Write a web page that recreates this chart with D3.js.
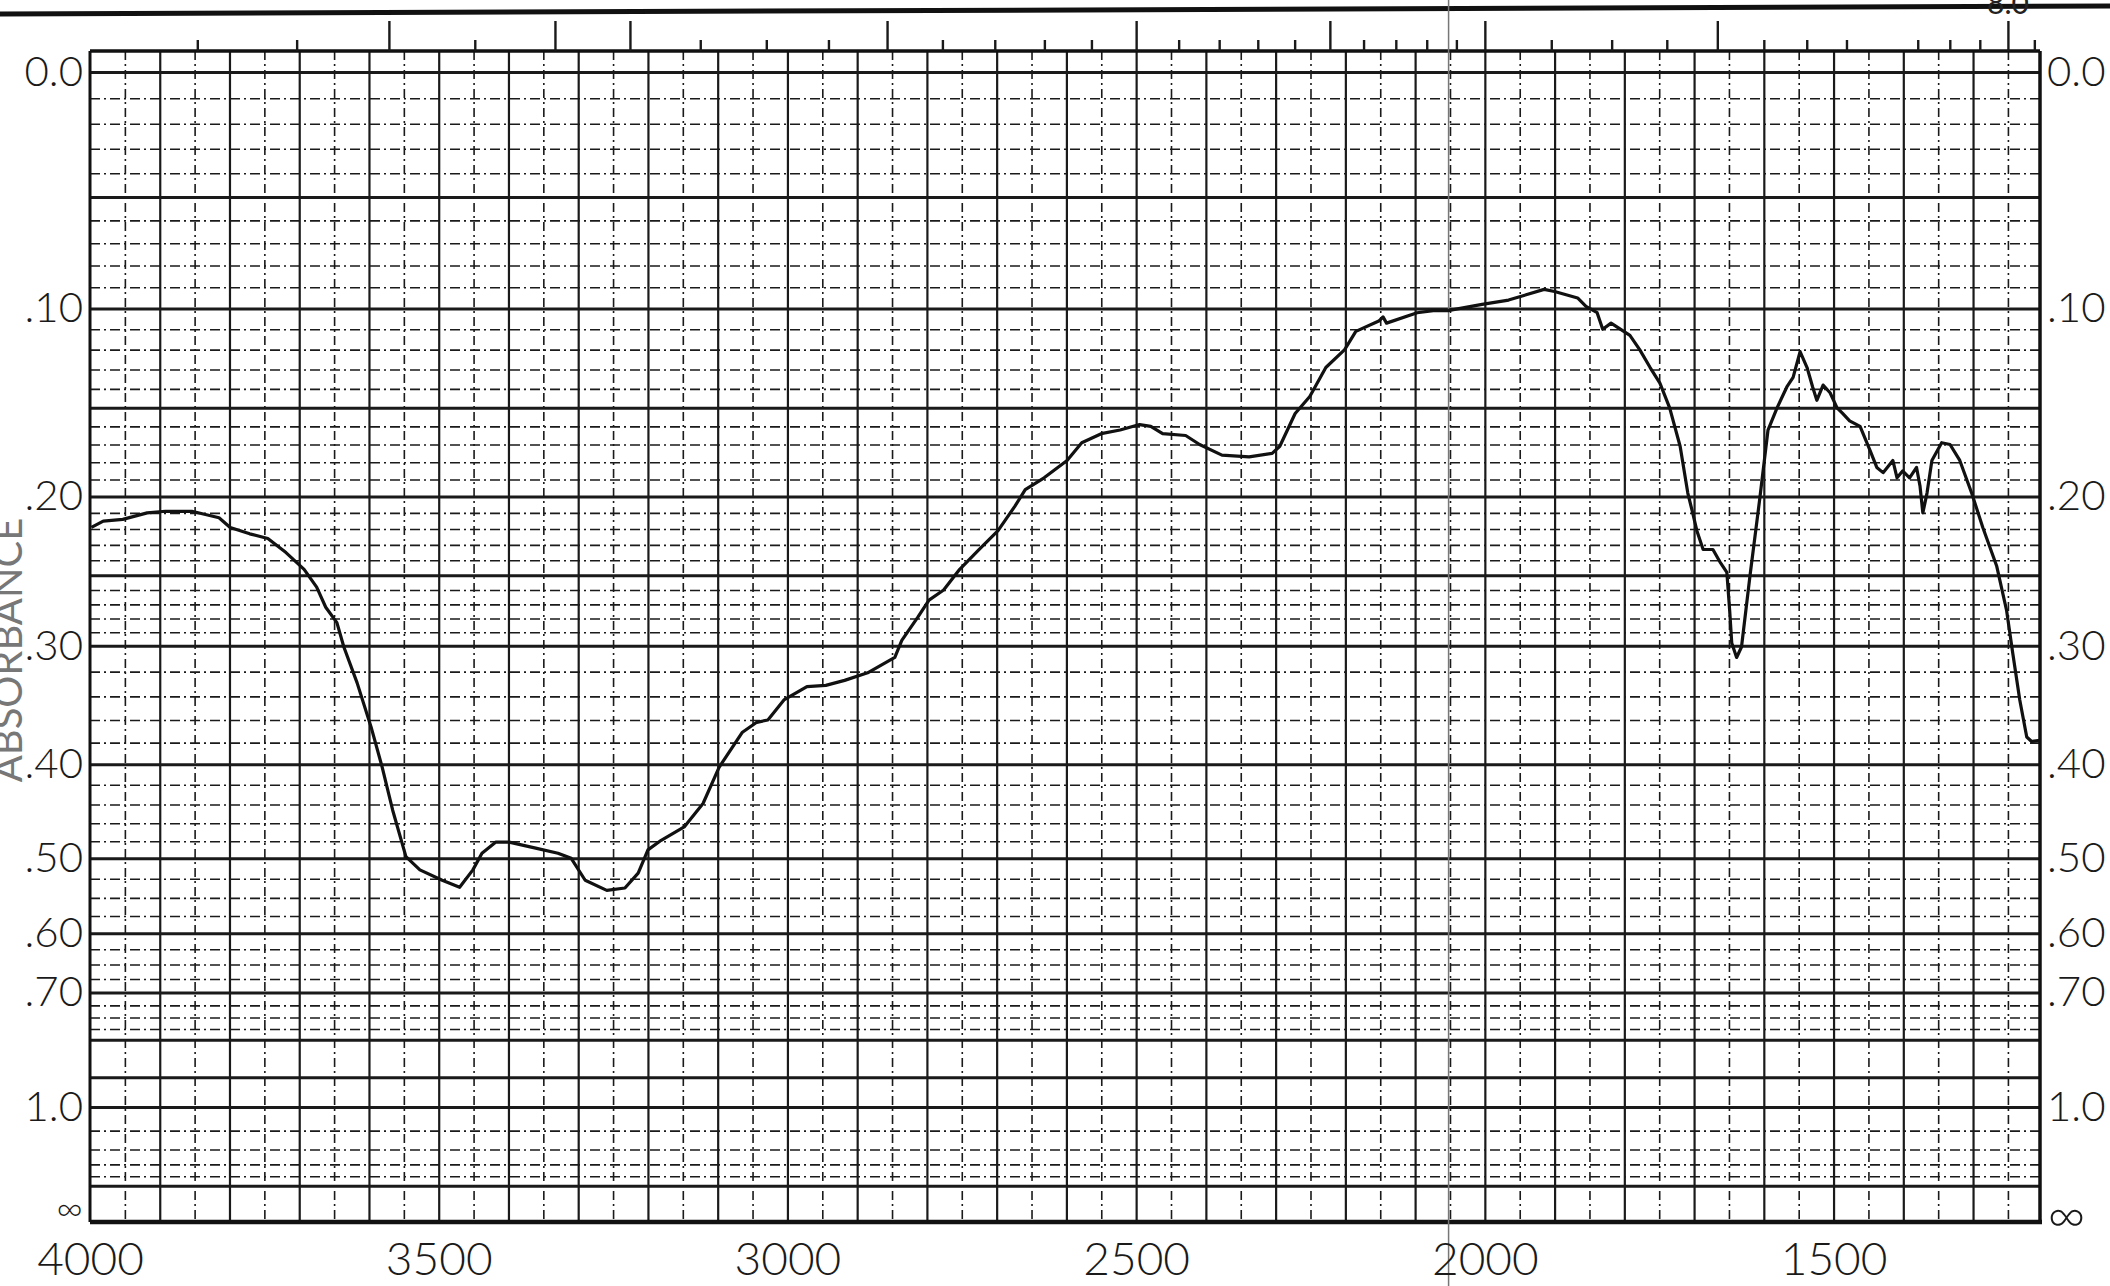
<!DOCTYPE html>
<html>
<head>
<meta charset="utf-8">
<script src="https://cdn.jsdelivr.net/npm/d3@7"></script>
<style>
  html, body { margin: 0; padding: 0; background: #fff; }
  svg { display: block; }
  .lbl text { font-family: "Lato", "DejaVu Sans", sans-serif; font-weight: 300; fill: #1a1a1a; }
</style>
</head>
<body>
<svg id="chart" width="2110" height="1286"></svg>
<script>
// ---- data ----
const wavenumber = [
  3998,3981,3953,3918,3892,3854,3815,3799,3771,3745,
  3719,3693,3675,3662,3646,3636,3617,3597,3581,3566,
  3547,3527,3495,3470,3451,3438,3418,3399,3361,3329,
  3310,3290,3259,3233,3214,3200,3181,3148,3121,3098,
  3065,3044,3028,3005,2972,2945,2918,2885,2846,2836,
  2813,2797,2776,2753,2725,2698,2674,2659,2632,2599,
  2578,2550,2523,2495,2479,2462,2429,2409,2377,2338,
  2305,2294,2272,2251,2228,2201,2185,2152,2146,2141,
  2097,2074,2053,2004,1966,1915,1900,1867,1855,1839,
  1831,1819,1792,1778,1763,1749,1735,1720,1709,1702,
  1696,1687,1673,1663,1653,1649,1646,1639,1632,1620,
  1606,1594,1581,1567,1558,1548,1538,1530,1524,1515,
  1505,1495,1487,1477,1462,1448,1438,1429,1415,1409,
  1401,1391,1381,1376,1372,1366,1359,1345,1333,1319,
  1302,1286,1266,1252,1243,1233,1223,1216,1204
];
const absorbance = [
  0.219,0.215,0.214,0.210,0.209,0.209,0.213,0.219,0.223,0.226,
  0.235,0.246,0.258,0.272,0.283,0.301,0.329,0.366,0.403,0.446,
  0.498,0.514,0.527,0.536,0.514,0.494,0.481,0.481,0.488,0.494,
  0.500,0.527,0.540,0.537,0.518,0.490,0.479,0.464,0.439,0.403,
  0.371,0.362,0.360,0.343,0.332,0.331,0.327,0.321,0.309,0.296,
  0.279,0.267,0.260,0.246,0.233,0.221,0.206,0.196,0.189,0.179,
  0.169,0.164,0.162,0.159,0.160,0.164,0.165,0.170,0.176,0.177,
  0.175,0.171,0.153,0.144,0.129,0.120,0.111,0.106,0.104,0.107,
  0.102,0.101,0.101,0.098,0.096,0.091,0.092,0.095,0.099,0.102,
  0.110,0.107,0.113,0.120,0.129,0.137,0.150,0.171,0.198,0.210,
  0.221,0.233,0.233,0.241,0.248,0.274,0.298,0.309,0.301,0.251,
  0.202,0.162,0.150,0.139,0.134,0.121,0.129,0.139,0.146,0.138,
  0.142,0.150,0.153,0.157,0.160,0.173,0.183,0.186,0.179,0.189,
  0.185,0.189,0.183,0.194,0.210,0.198,0.179,0.169,0.170,0.179,
  0.198,0.219,0.244,0.274,0.306,0.343,0.375,0.379,0.378
];

// tick labels
const xTickValues = [4000, 3500, 3000, 2500, 2000, 1500];
const xTickLabels = ["4000", "3500", "3000", "2500", "2000", "1500"];
const yTickValues = [0, 0.1, 0.2, 0.3, 0.4, 0.5, 0.6, 0.7, 1.0, Infinity];
const yTickLabels = ["0.0", ".10", ".20", ".30", ".40", ".50", ".60", ".70", "1.0", "\u221E"];

// chart-paper grid
const gridMajorWn = [3900,3800,3700,3600,3500,3400,3300,3200,3100,3000,2900,2800,2700,2600,2500,
                     2400,2300,2200,2100,2000,1900,1800,1700,1600,1500,1400,1300];
const gridMinorWn = [3950,3850,3750,3650,3550,3450,3350,3250,3150,3050,2950,2850,2750,2650,2550,
                     2450,2350,2250,2150,2050,1950,1850,1750,1650,1550,1450,1350,1250];
const gridMajorA = [0, 0.05, 0.10, 0.15, 0.20, 0.25, 0.30, 0.40, 0.50, 0.60, 0.70, 0.80, 0.90, 1.0, 1.5];
const gridMinorA = [0.01,0.02,0.03,0.04, 0.06,0.07,0.08,0.09, 0.11,0.12,0.13,0.14, 0.16,0.17,0.18,0.19,
                    0.21,0.22,0.23,0.24, 0.26,0.27,0.28,0.29, 0.32,0.34,0.36,0.38, 0.42,0.44,0.46,0.48,
                    0.525,0.55,0.575, 0.625,0.65,0.675, 0.725,0.75,0.775, 1.1,1.2,1.3,1.4];
// wavelength scale on the top edge (micrometres)
const micronShort = [2.6,2.7,2.9,3.2,3.3,3.4,3.6,3.7,3.8,3.9,4.1,4.2,4.3,4.4,4.6,4.7,4.8,4.9,
                     5.25,5.5,5.75,6.25,6.5,6.75,7.25,7.5,7.75,8.25];
const micronLong = [2.8, 3.0, 3.1, 3.5, 4.0, 4.5, 5.0, 6.0, 8.0];

// ---- layout ----
const W = 2110, H = 1286;
const left = 90, right = 2040, frameTop = 51, bottom = 1222, zeroLine = 72;

const svg = d3.select("#chart");
svg.append("rect").attr("width", W).attr("height", H).attr("fill", "#fff");

const x = d3.scaleLinear().domain([4000, 1204]).range([left, right]);
// paper is linear in transmittance: T = 10^-A
const yT = d3.scaleLinear().domain([1, 0]).range([zeroLine, bottom]);
const tOf = a => Math.pow(10, -a);

// vertical grid
function vgrid(values, width, dash) {
  const g = svg.append("g").attr("transform", `translate(0,${frameTop})`)
    .call(d3.axisBottom(x).tickValues(values).tickSize(bottom - frameTop).tickFormat(""));
  g.select(".domain").remove();
  g.selectAll("line").attr("stroke", "#1a1a1a").attr("stroke-width", width)
    .attr("stroke-dasharray", dash);
}
vgrid(gridMinorWn, 1.6, "9,4,2,4");
vgrid(gridMajorWn, 2.2, null);

// horizontal grid
function hgrid(values, width, dash) {
  const g = svg.append("g").attr("transform", `translate(${left},0)`)
    .call(d3.axisRight(yT).tickValues(values.map(tOf)).tickSize(right - left).tickFormat(""));
  g.select(".domain").remove();
  g.selectAll("line").attr("stroke", "#1a1a1a").attr("stroke-width", width)
    .attr("stroke-dasharray", dash);
}
hgrid(gridMinorA, 1.6, "10,4,2,4");
hgrid(gridMajorA, 3, null);

// frame
const frame = svg.append("g").attr("stroke", "#111").attr("fill", "none");
frame.append("line").attr("x1", left).attr("x2", right).attr("y1", frameTop).attr("y2", frameTop).attr("stroke-width", 3.5);
frame.append("line").attr("x1", left).attr("x2", right + 2).attr("y1", yT(0)).attr("y2", yT(0)).attr("stroke-width", 4.5);
frame.append("line").attr("x1", x(4000)).attr("x2", x(4000)).attr("y1", frameTop).attr("y2", bottom).attr("stroke-width", 3);
frame.append("line").attr("x1", x(1204)).attr("x2", x(1204)).attr("y1", frameTop).attr("y2", bottom).attr("stroke-width", 3.5);

// top wavelength ticks
function topTicks(values, len) {
  const g = svg.append("g").attr("transform", `translate(0,${frameTop})`)
    .call(d3.axisTop(x).tickValues(values.map(u => 1e4 / u)).tickSize(len).tickFormat(""));
  g.select(".domain").remove();
  g.selectAll("line").attr("stroke", "#1a1a1a").attr("stroke-width", 2.4);
}
topTicks(micronShort, 11);
topTicks(micronLong, 30);

// page edge from the scan
svg.append("line").attr("x1", 0).attr("y1", 14).attr("x2", W).attr("y2", 6)
  .attr("stroke", "#111").attr("stroke-width", 5);
svg.append("text").attr("x", 2008).attr("y", 14).attr("text-anchor", "middle")
  .attr("font-family", "Lato, sans-serif").attr("font-size", 30).attr("fill", "#222").text("8.0");
// scanner streak
svg.append("line").attr("x1", x(2052)).attr("x2", x(2052)).attr("y1", 0).attr("y2", H)
  .attr("stroke", "#777").attr("stroke-width", 1.5);

// y labels
const yLeft = svg.append("g").attr("class", "lbl").attr("transform", `translate(${left},0)`)
  .call(d3.axisLeft(yT).tickValues(yTickValues.map(tOf)).tickSize(0).tickPadding(7)
    .tickFormat((d, i) => yTickLabels[i]));
yLeft.select(".domain").remove();
yLeft.selectAll("text").attr("font-size", 42);
yLeft.selectAll("text").filter((d, i) => i === yTickLabels.length - 1)
  .attr("font-size", 36).attr("dy", "-0.05em");

const yRight = svg.append("g").attr("class", "lbl").attr("transform", `translate(${right},0)`)
  .call(d3.axisRight(yT).tickValues(yTickValues.map(tOf)).tickSize(0).tickPadding(7)
    .tickFormat((d, i) => yTickLabels[i]));
yRight.select(".domain").remove();
yRight.selectAll("text").attr("font-size", 42);
yRight.selectAll("text").filter((d, i) => i === yTickLabels.length - 1)
  .attr("font-size", 52).attr("font-weight", 700).attr("dy", "0.2em");

// x labels
const xAxis = svg.append("g").attr("class", "lbl").attr("transform", `translate(0,${bottom})`)
  .call(d3.axisBottom(x).tickValues(xTickValues).tickSize(0).tickPadding(20)
    .tickFormat((d, i) => xTickLabels[i]));
xAxis.select(".domain").remove();
xAxis.selectAll("text").attr("font-size", 46);

// axis title (partly cut off at the page edge, as in the scan)
svg.append("text").attr("transform", `translate(22,650) rotate(-90)`)
  .attr("text-anchor", "middle").attr("font-family", "Lato, sans-serif").attr("font-size", 40)
  .attr("fill", "#777").text("ABSORBANCE");

// spectrum
const pts = wavenumber.map((w, i) => [w, absorbance[i]]);
const line = d3.line().x(d => x(d[0])).y(d => yT(tOf(d[1]))).curve(d3.curveLinear);
svg.append("path").datum(pts).attr("d", line).attr("fill", "none")
  .attr("stroke", "#111").attr("stroke-width", 3.2).attr("stroke-linejoin", "round");
</script>
</body>
</html>
